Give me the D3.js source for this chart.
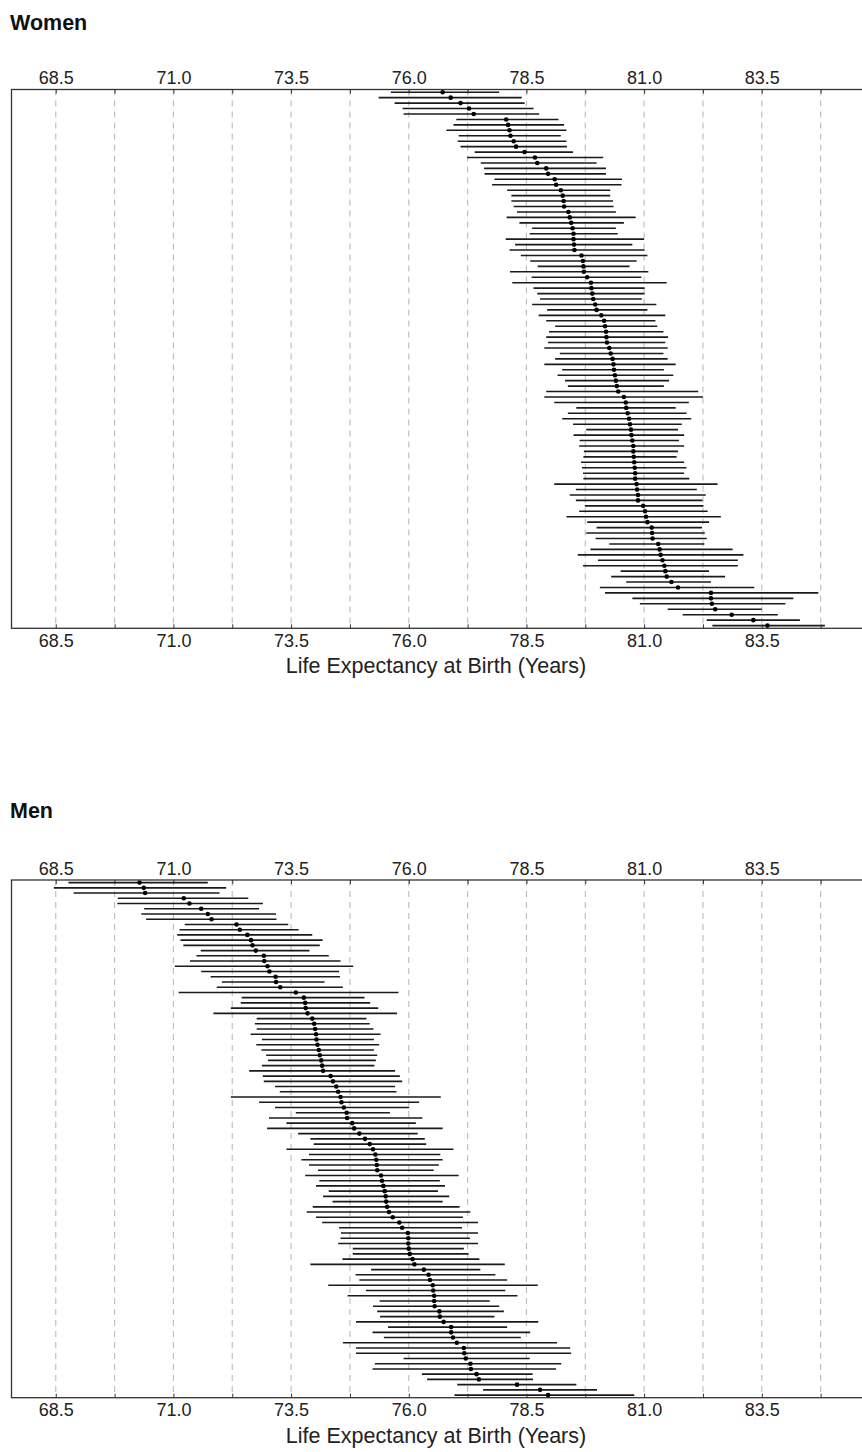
<!DOCTYPE html>
<html>
<head>
<meta charset="utf-8">
<script src="https://cdn.jsdelivr.net/npm/d3@7"></script>
<style>
  body { margin: 0; background: #fff; }
  svg { display: block; }
  text { font-family: "Liberation Sans", Arial, sans-serif; }
</style>
</head>
<body>
<svg id="chart" width="862" height="1452"></svg>
<script>
// Life expectancy at birth: point estimates with interval bounds, one row per area
const womenEst = [76.72,76.89,77.10,77.28,77.38,78.07,78.11,78.14,78.16,78.23,78.28,78.46,78.68,78.73,78.92,78.96,79.10,79.13,79.23,79.27,79.29,79.30,79.39,79.42,79.45,
  79.48,79.50,79.50,79.51,79.52,79.67,79.70,79.71,79.72,79.79,79.87,79.88,79.90,79.92,79.96,79.99,80.09,80.15,80.17,80.19,80.20,80.21,80.26,80.29,
  80.33,80.35,80.36,80.38,80.40,80.42,80.45,80.57,80.61,80.62,80.65,80.68,80.70,80.72,80.73,80.75,80.77,80.77,80.78,80.79,80.80,80.81,80.81,80.84,
  80.85,80.87,80.87,80.98,81.02,81.04,81.07,81.16,81.17,81.18,81.30,81.33,81.35,81.39,81.43,81.45,81.48,81.58,81.72,82.42,82.42,82.44,82.51,82.86,83.32,83.62];
const womenLow = [75.62,75.36,75.70,75.87,75.89,77.01,76.95,76.80,77.06,77.04,77.10,77.40,77.24,77.53,77.60,77.61,77.82,77.77,78.09,78.18,78.18,78.23,78.30,78.08,78.35,
  78.62,78.57,78.06,78.26,78.14,78.38,78.58,78.74,78.15,78.61,78.20,78.65,78.73,78.79,78.62,78.94,78.76,78.92,79.11,78.98,78.92,78.96,78.88,79.21,
  79.11,78.88,79.26,79.16,79.32,79.38,78.92,78.88,79.09,79.56,79.38,79.26,79.49,79.77,79.50,79.63,79.62,79.72,79.71,79.66,79.68,79.70,79.71,79.09,
  79.55,79.42,79.55,79.74,79.62,79.35,79.79,79.99,79.77,79.97,80.26,79.86,79.59,80.02,79.70,80.50,80.30,80.62,80.06,80.17,80.75,80.91,81.50,81.82,82.33,82.45];
const womenHigh = [77.92,78.40,78.46,78.65,78.77,79.18,79.30,79.35,79.23,79.35,79.36,79.49,80.13,79.99,80.19,80.19,80.53,80.52,80.28,80.28,80.34,80.35,80.40,80.82,80.57,
  80.40,80.44,81.00,80.75,81.01,81.07,80.84,80.69,81.09,80.94,81.48,81.01,81.01,80.95,81.26,81.07,81.45,81.24,81.28,81.41,81.51,81.45,81.50,81.41,
  81.50,81.67,81.42,81.62,81.53,81.42,82.15,82.25,81.95,81.67,81.90,82.00,81.80,81.72,81.85,81.74,81.85,81.72,81.69,81.85,81.90,81.85,81.96,82.56,
  82.12,82.31,82.24,82.26,82.35,82.63,82.38,82.23,82.29,82.33,82.28,82.88,83.11,82.99,82.99,82.38,82.72,82.42,83.34,84.70,84.17,84.00,83.50,83.84,84.31,84.84];

const menEst = [70.28,70.37,70.40,71.22,71.34,71.59,71.73,71.81,72.34,72.41,72.57,72.65,72.68,72.75,72.92,72.93,73.00,73.04,73.17,73.18,73.27,
  73.60,73.77,73.80,73.81,73.85,73.95,73.99,74.01,74.03,74.04,74.06,74.09,74.11,74.14,74.16,74.18,74.34,74.39,74.46,74.50,74.55,74.57,74.62,74.68,74.69,74.80,
  74.84,74.95,75.07,75.17,75.24,75.29,75.31,75.32,75.33,75.41,75.43,75.46,75.49,75.51,75.52,75.54,75.58,75.66,75.80,75.86,75.98,75.99,75.99,76.00,76.02,76.08,
  76.12,76.32,76.42,76.45,76.51,76.52,76.54,76.54,76.55,76.65,76.66,76.74,76.90,76.90,76.94,77.02,77.17,77.18,77.21,77.31,77.32,77.44,77.49,78.30,78.79,78.96];
const menLow = [68.77,68.46,68.88,69.82,69.81,70.38,70.32,70.42,71.24,71.13,71.08,71.15,71.21,71.58,71.49,71.35,71.03,71.59,71.79,72.03,71.92,
  71.11,72.45,72.43,72.22,71.85,72.77,72.73,72.77,72.64,72.88,72.76,72.87,72.97,73.01,72.88,72.61,72.90,72.92,73.16,73.26,72.22,72.82,73.16,73.60,73.03,73.40,
  72.99,73.65,73.91,73.98,73.40,73.88,73.72,73.88,74.07,73.80,74.10,74.03,74.30,74.18,74.38,73.96,73.83,74.03,74.16,74.52,74.56,74.55,74.50,74.81,74.81,74.59,
  73.91,75.20,74.87,74.95,74.29,75.09,74.70,75.38,75.24,75.33,75.39,74.88,75.56,75.23,75.47,74.60,74.88,74.88,75.89,75.28,75.23,76.28,76.39,77.03,77.58,76.97];
const menHigh = [71.73,72.12,71.98,72.59,72.90,72.82,73.18,73.19,73.44,73.66,73.95,74.17,74.11,73.89,74.30,74.55,74.82,74.52,74.54,74.21,74.60,
  75.78,75.06,75.18,75.35,75.75,75.10,75.17,75.25,75.40,75.26,75.37,75.26,75.33,75.30,75.27,75.71,75.81,75.86,75.71,75.74,76.68,76.22,76.01,75.60,76.29,76.15,
  76.72,76.19,76.34,76.37,76.95,76.67,76.72,76.64,76.53,77.06,76.66,76.77,76.62,76.86,76.72,77.08,77.31,77.15,77.47,77.13,77.47,77.30,77.47,77.17,77.27,77.50,
  78.04,77.52,77.84,78.09,78.74,78.05,78.31,77.72,77.92,78.02,77.82,78.75,78.09,78.58,78.38,79.15,79.43,79.45,78.57,79.24,79.13,78.63,78.64,79.56,80.00,80.79];

// Axis ticks every 1.25 years; labels only on every second one
const gridValues = [68.5,69.75,71.0,72.25,73.5,74.75,76.0,77.25,78.5,79.75,81.0,82.25,83.5,84.75];
const labelValues = [68.5,71.0,73.5,76.0,78.5,81.0,83.5];
const axisTitle = "Life Expectancy at Birth (Years)";

const svg = d3.select("#chart");
const x = d3.scaleLinear().domain([67.56, 85.65]).range([11.5, 863]);
const fmt = d3.format(".1f");
const isLabel = v => labelValues.some(l => Math.abs(l - v) < 1e-6);

function drawPanel(cfg) {
  const g = svg.append("g");
  const n = cfg.est.length;
  const y = d3.scalePoint().domain(d3.range(n)).range([cfg.top, cfg.bottom]).padding(0.5);

  g.append("text")
    .attr("x", 10).attr("y", cfg.titleY)
    .attr("font-size", 21.5).attr("font-weight", "bold").attr("fill", "#111")
    .text(cfg.title);

  // dashed reference lines
  g.append("g").selectAll("line").data(gridValues).join("line")
    .attr("x1", d => x(d)).attr("x2", d => x(d))
    .attr("y1", cfg.top).attr("y2", cfg.bottom)
    .attr("stroke", "#c0c0c0").attr("stroke-width", 1.2)
    .attr("stroke-dasharray", "6,5");

  // interval bars
  g.append("g").selectAll("line").data(d3.range(n)).join("line")
    .attr("x1", i => x(cfg.low[i])).attr("x2", i => x(cfg.high[i]))
    .attr("y1", i => y(i)).attr("y2", i => y(i))
    .attr("stroke", "#1a1a1a").attr("stroke-width", 1.6);

  // point estimates
  g.append("g").selectAll("circle").data(d3.range(n)).join("circle")
    .attr("cx", i => x(cfg.est[i])).attr("cy", i => y(i))
    .attr("r", 2.3).attr("fill", "#000");

  const styleAxis = sel => {
    sel.select(".domain").remove();
    sel.selectAll(".tick line").attr("stroke", "#333");
    sel.selectAll(".tick text").attr("font-size", 18).attr("fill", "#222")
      .attr("font-family", '"Liberation Sans", Arial, sans-serif');
  };

  const top = d3.axisTop(x).tickValues(gridValues).tickSize(-4).tickPadding(5.5)
    .tickFormat(v => isLabel(v) ? fmt(v) : "");
  g.append("g").attr("transform", `translate(0,${cfg.top})`).call(top).call(styleAxis);

  const bottom = d3.axisBottom(x).tickValues(gridValues).tickSize(-4).tickPadding(6)
    .tickFormat(v => isLabel(v) ? fmt(v) : "");
  g.append("g").attr("transform", `translate(0,${cfg.bottom})`).call(bottom).call(styleAxis);

  // frame
  g.append("rect")
    .attr("x", x.range()[0]).attr("y", cfg.top)
    .attr("width", x.range()[1] - x.range()[0]).attr("height", cfg.bottom - cfg.top)
    .attr("fill", "none").attr("stroke", "#333").attr("stroke-width", 1.3);

  g.append("text")
    .attr("x", 436).attr("y", cfg.bottom + 45)
    .attr("text-anchor", "middle").attr("font-size", 21.5).attr("fill", "#222")
    .text(axisTitle);
}

drawPanel({ title: "Women", titleY: 30, top: 89.5, bottom: 628.3, est: womenEst, low: womenLow, high: womenHigh });
drawPanel({ title: "Men", titleY: 818, top: 880, bottom: 1397.7, est: menEst, low: menLow, high: menHigh });
</script>
</body>
</html>
